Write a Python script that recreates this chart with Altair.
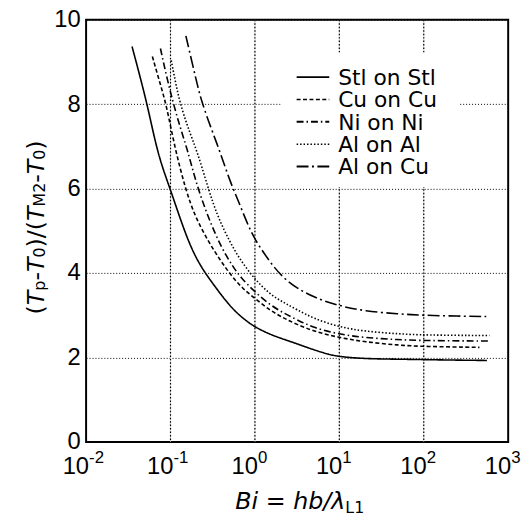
import altair as alt
import pandas as pd

# ---------------- data ----------------
series_names = ["Stl on Stl", "Cu on Cu", "Ni on Ni", "Al on Al", "Al on Cu"]

stl_x = [0.035, 0.045, 0.055, 0.072, 0.1, 0.148, 0.21, 0.33, 0.52, 0.75, 1.0, 1.5, 2.2, 3.1, 5, 7.6, 10, 20, 50, 100, 200, 560]
stl_y = [9.37, 8.55, 7.85, 6.75, 5.98, 4.95, 4.25, 3.7, 3.18, 2.9, 2.72, 2.55, 2.43, 2.33, 2.18, 2.07, 2.02, 1.97, 1.96, 1.95, 1.94, 1.93]

cu_x = [0.061, 0.075, 0.089, 0.113, 0.15, 0.194, 0.28, 0.39, 0.52, 0.7, 1.0, 1.5, 2.2, 3.1, 5, 10, 20, 50, 100, 457]
cu_y = [9.13, 8.5, 8.0, 6.95, 6.0, 5.35, 4.75, 4.3, 3.95, 3.65, 3.4, 3.12, 2.93, 2.79, 2.62, 2.47, 2.37, 2.29, 2.26, 2.24]

ni_x = [0.076, 0.09, 0.107, 0.13, 0.16, 0.2, 0.275, 0.4, 0.55, 0.675, 1.0, 1.5, 2.2, 3.1, 5, 10, 20, 50, 100, 600]
ni_y = [9.32, 8.65, 8.05, 7.45, 6.9, 6.15, 5.35, 4.6, 4.15, 3.9, 3.55, 3.25, 3.05, 2.9, 2.7, 2.55, 2.47, 2.42, 2.4, 2.39]

alal_x = [0.102, 0.115, 0.129, 0.16, 0.21, 0.28, 0.36, 0.5, 0.675, 1.0, 1.5, 2.2, 3.1, 5, 10, 20, 50, 100, 600]
alal_y = [9.04, 8.5, 8.05, 7.45, 6.85, 6.0, 5.35, 4.75, 4.3, 3.85, 3.5, 3.3, 3.14, 2.92, 2.72, 2.62, 2.56, 2.53, 2.52]

alcu_x = [0.152, 0.2, 0.23, 0.3, 0.39, 0.5, 0.67, 0.9, 1.2, 1.66, 2.2, 3.1, 5, 10, 20, 50, 100, 250, 550]
alcu_y = [9.62, 8.6, 8.1, 7.45, 6.85, 6.2, 5.6, 4.95, 4.55, 4.15, 3.88, 3.65, 3.42, 3.22, 3.1, 3.03, 3.0, 2.98, 2.97]

x_tick_values = [0.01, 0.1, 1, 10, 100, 1000]
x_tick_exponents = ["-2", "-1", "0", "1", "2", "3"]
y_tick_values = [0, 2, 4, 6, 8, 10]

# ---------------- styles ----------------
dash_styles = [[1, 0], [4, 2.5], [7, 3, 1.5, 3], [1.5, 2], [12, 3.5, 2, 3.5]]
line_widths = [1.6, 1.6, 2.0, 1.6, 2.0]

W = 427
H = 427
TXT = "DejaVu Sans"
NUM = "Liberation Sans"

rows = []
all_x = [stl_x, cu_x, ni_x, alal_x, alcu_x]
all_y = [stl_y, cu_y, ni_y, alal_y, alcu_y]
for name, xs, ys in zip(series_names, all_x, all_y):
    for i, (a, b) in enumerate(zip(xs, ys)):
        rows.append({"series": name, "Bi": a, "ratio": b, "order": i})
df = pd.DataFrame(rows)

tick_df = pd.DataFrame({"v": x_tick_values, "base": ["10"] * len(x_tick_values), "exp": x_tick_exponents})
grid_df = pd.DataFrame({"g": x_tick_values[1:-1]})

xscale = alt.Scale(type="log", domain=[0.01, 1000], nice=False)
yscale = alt.Scale(domain=[0, 10], nice=False, zero=True)


def x_axis():
    return alt.Axis(values=x_tick_values, labels=False, ticks=False, domain=False,
                    grid=False, title=None)


# vertical grid: a faint solid line under a dotted black one
xgrid_base = alt.Chart(grid_df).mark_rule(color="#c4c4c4", strokeWidth=0.8).encode(
    x=alt.X("g:Q", scale=xscale, axis=x_axis()),
)
xgrid_dots = alt.Chart(grid_df).mark_rule(color="black", strokeDash=[1.5, 2], strokeWidth=1.2).encode(
    x=alt.X("g:Q", scale=xscale, axis=x_axis()),
)

lines = alt.Chart(df).mark_line(color="black", interpolate="basis").encode(
    x=alt.X("Bi:Q", scale=xscale, axis=x_axis()),
    y=alt.Y("ratio:Q", scale=yscale,
            axis=alt.Axis(values=y_tick_values, labelFont=NUM, labelFontSize=24, labelColor="black",
                          labelPadding=6, labelFlush=False, labelOverlap=False, ticks=False,
                          domain=False, grid=True, title=None)),
    strokeDash=alt.StrokeDash("series:N", scale=alt.Scale(domain=series_names, range=dash_styles),
                              sort=series_names, legend=None),
    strokeWidth=alt.StrokeWidth("series:N", scale=alt.Scale(domain=series_names, range=line_widths),
                                sort=series_names, legend=None),
    order=alt.Order("order:Q"),
)

tick_base = alt.Chart(tick_df).mark_text(
    font=NUM, fontSize=24, color="black", align="right", baseline="middle", dx=3
).encode(x=alt.X("v:Q", scale=xscale, axis=x_axis()), y=alt.value(452), text="base:N")

tick_exp = alt.Chart(tick_df).mark_text(
    font=NUM, fontSize=17, color="black", align="left", baseline="middle", dx=3
).encode(x=alt.X("v:Q", scale=xscale, axis=x_axis()), y=alt.value(443), text="exp:N")

one = alt.Data(values=[{"a": 1}])

# ---------------- legend (drawn by hand) ----------------
LEG_BOX = (197, 33, 378, 169)
LEG_SYM_X = (213, 246)
LEG_TEXT_X = 255
LEG_ROW0 = 58
LEG_ROW_STEP = 22.6

legend_layers = [
    alt.Chart(one).mark_rect(color="white").encode(
        x=alt.value(LEG_BOX[0]), x2=alt.value(LEG_BOX[2]),
        y=alt.value(LEG_BOX[1]), y2=alt.value(LEG_BOX[3]))
]
for k, name in enumerate(series_names):
    yy = LEG_ROW0 + k * LEG_ROW_STEP
    legend_layers.append(
        alt.Chart(one).mark_rule(color="black", strokeDash=dash_styles[k], strokeWidth=line_widths[k])
        .encode(x=alt.value(LEG_SYM_X[0]), x2=alt.value(LEG_SYM_X[1]), y=alt.value(yy))
    )
    legend_layers.append(
        alt.Chart(one).mark_text(text=name, font=TXT, fontSize=22, color="black",
                                 align="left", baseline="middle")
        .encode(x=alt.value(LEG_TEXT_X), y=alt.value(yy + 1))
    )

# ---------------- composed titles ----------------
widths = {"(": 390, ")": 390, "/": 337, "-": 361, "T": 611, "p": 635, "0": 636, "2": 636,
          "M": 863, "B": 686, "i": 278, " ": 318, "=": 838, "h": 634, "b": 635,
          "\u03bb": 592, "L": 557, "1": 636}


def wid(s, size):
    return sum(widths.get(c, 600) for c in s) * size / 1000.0


title_layers = []

# y title, rotated, reads upward
ysegs = [("(", "normal", 24, False), ("T", "italic", 24, False), ("p", "normal", 16, True),
         ("-", "normal", 24, False), ("T", "italic", 24, False), ("0", "normal", 16, True),
         (")/(", "normal", 24, False), ("T", "italic", 24, False), ("M2", "normal", 16, True),
         ("-", "normal", 24, False), ("T", "italic", 24, False), ("0", "normal", 16, True),
         (")", "normal", 24, False)]
ypos = 298.0
for txt, style, size, sub in ysegs:
    title_layers.append(
        alt.Chart(one).mark_text(text=txt, font=TXT, fontSize=size, fontStyle=style, color="black",
                                 angle=270, align="left", baseline="alphabetic")
        .encode(x=alt.value(-43 + (1 if sub else 0)), y=alt.value(ypos))
    )
    ypos -= wid(txt, size)

# x title (spaces are advanced by hand, SVG drops leading/trailing blanks)
xsegs = [("Bi", "italic", 24, False), (" ", "normal", 24, False), ("=", "normal", 24, False),
         (" ", "normal", 24, False), ("hb/\u03bb", "italic", 24, False), ("L1", "normal", 16, True)]
xpos = 151.0
for txt, style, size, sub in xsegs:
    if txt.strip():
        title_layers.append(
            alt.Chart(one).mark_text(text=txt, font=TXT, fontSize=size, fontStyle=style, color="black",
                                     align="left", baseline="alphabetic")
            .encode(x=alt.value(xpos), y=alt.value(495 + (4 if sub else 0)))
        )
    xpos += wid(txt, size)

chart = alt.layer(xgrid_base, xgrid_dots, lines, tick_base, tick_exp, *legend_layers, *title_layers).properties(
    width=W, height=H,
    autosize=alt.AutoSizeParams(type="none"),
    padding={"left": 79, "top": 9, "right": 15, "bottom": 74},
).configure_view(
    stroke="black", strokeWidth=2
).configure_axis(
    gridColor="black", gridDash=[1, 2], gridWidth=1, gridOpacity=1
)

chart.save("out.html", embed_options={"renderer": "svg", "actions": False})
